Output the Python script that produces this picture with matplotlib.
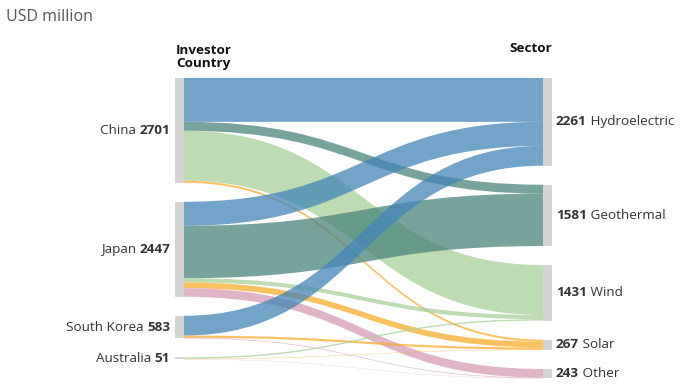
import matplotlib.pyplot as plt
from matplotlib.path import Path
from matplotlib.patches import PathPatch, Rectangle

plt.rcParams['font.family'] = ['Open Sans', 'DejaVu Sans']

# investor countries (left) and sectors (right), USD million
sources = ['China', 'Japan', 'South Korea', 'Australia']
source_totals = [2701, 2447, 583, 51]
targets = ['Hydroelectric', 'Geothermal', 'Wind', 'Solar', 'Other']
target_totals = [2261, 1581, 1431, 267, 243]
target_colors = ['#4386b7', '#4a847c', '#a8d199', '#faab2a', '#d69bb3']

# flows from each country into each sector (same order as targets)
china = [1130, 230, 1289, 52, 0]
japan = [619, 1351, 106, 150, 221]
korea = [511, 0, 0, 56, 16]
australia = [0, 0, 36, 9, 6]
flows = [china, japan, korea, australia]

ppu = 0.0388          # pixels per USD million
gap = 19 / ppu        # gap between nodes in value units
x_left, x_right = 175, 543
node_w = 9

fig = plt.figure(figsize=(6.98, 3.9), dpi=100)
ax = fig.add_axes([0, 0, 1, 1])
ax.set_xlim(0, 698)
ax.set_ylim((390 - 78) / ppu, -78 / ppu)
ax.axis('off')

# node positions (top-aligned stacks)
def stack(totals):
    tops, y = [], 0
    for t in totals:
        tops.append(y)
        y += t + gap
    return tops

src_top = stack(source_totals)
tgt_top = stack(target_totals)

# links
src_cursor = list(src_top)
tgt_cursor = list(tgt_top)
x0 = x_left + node_w
x1 = x_right
xm = (x0 + x1) / 2
for i, row in enumerate(flows):
    for j, v in enumerate(row):
        if v <= 0:
            continue
        s0, t0 = src_cursor[i], tgt_cursor[j]
        s1, t1 = s0 + v, t0 + v
        verts = [(x0, s0), (xm, s0), (xm, t0), (x1, t0),
                 (x1, t1), (xm, t1), (xm, s1), (x0, s1), (x0, s0)]
        codes = [Path.MOVETO, Path.CURVE4, Path.CURVE4, Path.CURVE4,
                 Path.LINETO, Path.CURVE4, Path.CURVE4, Path.CURVE4, Path.CLOSEPOLY]
        ax.add_patch(PathPatch(Path(verts, codes), facecolor=target_colors[j],
                               edgecolor='none', alpha=0.75, zorder=2))
        src_cursor[i] = s1
        tgt_cursor[j] = t1

# node bars and labels
for name, tot, top in zip(sources, source_totals, src_top):
    h = max(tot, 2 / ppu)
    ax.add_patch(Rectangle((x_left, top), node_w, h, facecolor='#d4d4d4',
                           edgecolor='none', zorder=3))
    num = ax.text(x_left - 5, top + h / 2, str(tot), ha='right', va='center',
                  fontsize=9.7, fontweight='bold', color='#333333')
    ax.annotate(name + ' ', xy=(0, 0.5), xycoords=num, ha='right', va='center',
                fontsize=9.7, color='#333333')

for name, tot, top in zip(targets, target_totals, tgt_top):
    ax.add_patch(Rectangle((x_right, top), node_w, tot, facecolor='#d4d4d4',
                           edgecolor='none', zorder=3))
    num = ax.text(x_right + node_w + 4, top + tot / 2, str(tot), ha='left', va='center',
                  fontsize=9.7, fontweight='bold', color='#333333')
    ax.annotate(' ' + name, xy=(1, 0.5), xycoords=num, ha='left', va='center',
                fontsize=9.7, color='#333333')

fig.text(6 / 698, 1 - 17 / 390, 'USD million', ha='left', va='center',
         fontsize=11.5, color='#555555')
fig.text(176 / 698, 1 - 57 / 390, 'Investor\nCountry', ha='left', va='center',
         fontsize=9.7, fontweight='bold', color='#111111', linespacing=1.1)
fig.text(552 / 698, 1 - 49 / 390, 'Sector', ha='right', va='center',
         fontsize=9.7, fontweight='bold', color='#111111')

fig.savefig('out.png', dpi=100, facecolor='white')
